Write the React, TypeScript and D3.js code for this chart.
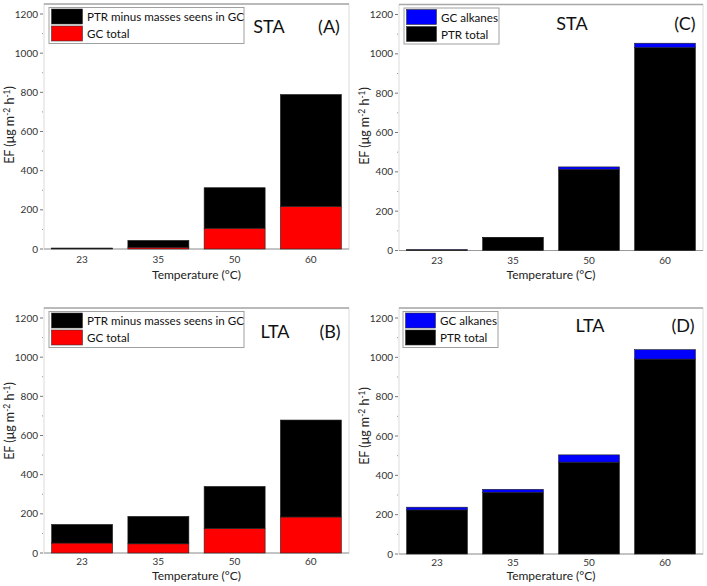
import React from "react";
import * as d3 from "d3";

const categories = ["23", "35", "50", "60"];
const yTicks = [0, 200, 400, 600, 800, 1000, 1200];
const yMinorTicks = [100, 300, 500, 700, 900, 1100];

// Panel A (STA) and B (LTA): GC total (red, bottom) + PTR minus masses seen in GC (black, top)
const staGcTotal = [2, 9, 106, 218];
const staPtrMinusGc = [3, 35, 207, 571];
const ltaGcTotal = [51, 47, 126, 184];
const ltaPtrMinusGc = [95, 140, 214, 495];

// Panel C (STA) and D (LTA): PTR total (black, bottom) + GC alkanes (blue, top)
const staPtrTotal = [3, 65, 413, 1032];
const staGcAlkanes = [1, 1, 12, 22];
const ltaPtrTotal = [224, 314, 467, 991];
const ltaGcAlkanes = [14, 15, 37, 48];

const legendAB = ["PTR minus masses seens in GC", "GC total"];
const legendCD = ["GC alkanes", "PTR total"];

type Series = { name: string; values: number[]; color: string };

type PanelProps = {
  left: number;
  right: number;
  top: number;
  bottom: number;
  stack: Series[]; // bottom to top
  legend: { name: string; color: string }[];
  legendX: number;
  legendW: number;
  swatchW: number;
  label: string;
  labelX: number;
  labelY: number;
  tag: string;
  tagX: number;
  tickDy: number;
  xTitleY: number;
  yTitleX: number;
  yTitleY: number;
};

const FONT = "Lato, 'Open Sans', sans-serif";

function Panel(p: PanelProps) {
  const x = d3
    .scaleBand<string>()
    .domain(categories)
    .range([p.left, p.right])
    .paddingInner(0.2)
    .paddingOuter(0.1);
  const y = d3.scaleLinear().domain([0, 1200]).range([p.bottom, p.top + 10]);

  const keys = p.stack.map((s) => s.name);
  const rows = categories.map((c, i) => {
    const r: any = { cat: c };
    p.stack.forEach((s) => (r[s.name] = s.values[i]));
    return r;
  });
  const stacked = d3.stack<any>().keys(keys)(rows);

  const legTop = p.top + 3.5;
  const rowH = 17;

  return (
    <g>
      {/* frame */}
      <rect
        x={p.left}
        y={p.top}
        width={p.right - p.left}
        height={p.bottom - p.top}
        fill="none"
        stroke="#dcdcdc"
        strokeWidth={1}
      />
      <line x1={p.left} x2={p.right} y1={p.top} y2={p.top} stroke="#a8a8a8" strokeWidth={1.5} />
      <line x1={p.left} x2={p.right} y1={p.bottom} y2={p.bottom} stroke="#9a9a9a" strokeWidth={1.2} />

      {/* bars */}
      {stacked.map((layer, li) => (
        <g key={li}>
          {layer.map((d, i) => (
            <rect
              key={i}
              x={x(categories[i])!}
              width={x.bandwidth()}
              y={y(d[1])}
              height={Math.max(0, y(d[0]) - y(d[1]))}
              fill={p.stack[li].color}
              stroke="#222"
              strokeWidth={0.6}
            />
          ))}
        </g>
      ))}

      {/* y ticks */}
      {yTicks.map((t) => (
        <g key={t}>
          <line x1={p.left - 4} x2={p.left - 1} y1={y(t)} y2={y(t)} stroke="#777" strokeWidth={1} />
          <text
            x={p.left - 6}
            y={y(t)}
            dy="0.35em"
            textAnchor="end"
            fontSize={10}
            fill="#333"
            fontFamily={FONT}
          >
            {t}
          </text>
        </g>
      ))}
      {yMinorTicks.map((t) => (
        <line key={t} x1={p.left - 2} x2={p.left - 1} y1={y(t)} y2={y(t)} stroke="#999" strokeWidth={1} />
      ))}

      {/* x tick labels */}
      {categories.map((c) => (
        <text
          key={c}
          x={x(c)! + x.bandwidth() / 2}
          y={p.bottom + p.tickDy}
          textAnchor="middle"
          fontSize={10}
          fill="#333"
          fontFamily={FONT}
        >
          {c}
        </text>
      ))}

      {/* axis titles */}
      <text
        x={(p.left + p.right) / 2}
        y={p.xTitleY}
        textAnchor="middle"
        fontSize={12}
        fill="#222"
        fontFamily={FONT}
      >
        Temperature (°C)
      </text>
      <text
        transform={`translate(${p.yTitleX},${p.yTitleY}) rotate(-90)`}
        textAnchor="middle"
        fontSize={12.5}
        fill="#222"
        fontFamily={FONT}
      >
        EF (μg m
        <tspan dy={-4.5} fontSize={8.5}>
          -2
        </tspan>
        <tspan dy={4.5}> h</tspan>
        <tspan dy={-4.5} fontSize={8.5}>
          -1
        </tspan>
        <tspan dy={4.5}>)</tspan>
      </text>

      {/* legend */}
      <rect
        x={p.legendX}
        y={legTop}
        width={p.legendW}
        height={rowH * p.legend.length + 2}
        fill="white"
        stroke="#a0a0a0"
        strokeWidth={1}
      />
      {p.legend.map((l, i) => (
        <g key={l.name}>
          <rect
            x={p.legendX + 2.5}
            y={legTop + 1.5 + i * rowH}
            width={p.swatchW}
            height={rowH - 2}
            fill={l.color}
            stroke="#333"
            strokeWidth={0.6}
          />
          <text
            x={p.legendX + p.swatchW + 7}
            y={legTop + 1 + i * rowH + rowH / 2}
            dy="0.35em"
            fontSize={11.6}
            fill="#111"
            fontFamily={FONT}
          >
            {l.name}
          </text>
        </g>
      ))}

      {/* annotations */}
      <text x={p.labelX} y={p.labelY} textAnchor="middle" fontSize={18} fill="#111" fontFamily={FONT}>
        {p.label}
      </text>
      <text x={p.tagX} y={p.labelY} textAnchor="middle" fontSize={18} fill="#111" fontFamily={FONT}>
        {p.tag}
      </text>
    </g>
  );
}

export default function App() {
  const red = "#ff0000";
  const black = "#000000";
  const blue = "#0000ff";
  return (
    <svg width={707} height={586} style={{ position: "absolute", left: 0, top: 0, background: "white" }}>
      <rect width={707} height={586} fill="white" />
      <Panel
        left={44}
        right={349}
        top={4}
        bottom={249}
        stack={[
          { name: "GC total", values: staGcTotal, color: red },
          { name: "PTR minus", values: staPtrMinusGc, color: black },
        ]}
        legend={[
          { name: legendAB[0], color: black },
          { name: legendAB[1], color: red },
        ]}
        legendX={49}
        legendW={195}
        swatchW={31}
        label="STA"
        labelX={269}
        labelY={32.5}
        tag="(A)"
        tagX={329}
        tickDy={13.5}
        xTitleY={279}
        yTitleX={14}
        yTitleY={125}
      />
      <Panel
        left={44}
        right={349}
        top={308}
        bottom={553}
        stack={[
          { name: "GC total", values: ltaGcTotal, color: red },
          { name: "PTR minus", values: ltaPtrMinusGc, color: black },
        ]}
        legend={[
          { name: legendAB[0], color: black },
          { name: legendAB[1], color: red },
        ]}
        legendX={49}
        legendW={195}
        swatchW={31}
        label="LTA"
        labelX={275}
        labelY={338}
        tag="(B)"
        tagX={330}
        tickDy={12}
        xTitleY={580}
        yTitleX={14}
        yTitleY={421}
      />
      <Panel
        left={399}
        right={703}
        top={4.5}
        bottom={250.5}
        stack={[
          { name: "PTR total", values: staPtrTotal, color: black },
          { name: "GC alkanes", values: staGcAlkanes, color: blue },
        ]}
        legend={[
          { name: legendCD[0], color: blue },
          { name: legendCD[1], color: black },
        ]}
        legendX={404}
        legendW={95}
        swatchW={30}
        label="STA"
        labelX={572}
        labelY={29.5}
        tag="(C)"
        tagX={685}
        tickDy={13}
        xTitleY={279}
        yTitleX={369}
        yTitleY={126}
      />
      <Panel
        left={399}
        right={703}
        top={308}
        bottom={554}
        stack={[
          { name: "PTR total", values: ltaPtrTotal, color: black },
          { name: "GC alkanes", values: ltaGcAlkanes, color: blue },
        ]}
        legend={[
          { name: legendCD[0], color: blue },
          { name: legendCD[1], color: black },
        ]}
        legendX={403}
        legendW={95}
        swatchW={30}
        label="LTA"
        labelX={590}
        labelY={332}
        tag="(D)"
        tagX={683}
        tickDy={11.5}
        xTitleY={580}
        yTitleX={369}
        yTitleY={426}
      />
    </svg>
  );
}
